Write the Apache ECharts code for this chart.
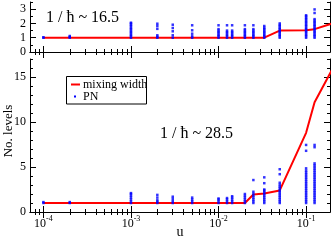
<!DOCTYPE html>
<html><head><meta charset="utf-8">
<script src="https://cdn.jsdelivr.net/npm/echarts@6/dist/echarts.min.js"></script>
<style>html,body{margin:0;padding:0;background:#fff}#c{width:332px;height:240px}</style>
</head><body><div id="c"></div>
<script>
// ---- data ----
const mwX   = [1e-4, 2e-4, 1e-3, 2e-3, 3e-3, 5e-3, 1e-2, 1.25e-2, 1.43e-2, 2e-2, 2.5e-2, 3.33e-2, 5e-2, 0.1, 0.125, 0.2];
const mwTop = [1, 1, 1, 1, 1, 1, 1, 1, 1, 1, 1, 1, 1.5, 1.53, 1.6, 2.0];
const mwBot = [1, 1, 1, 1, 1, 1, 1, 1, 1, 1, 1.95, 2.05, 2.4, 8.8, 12.2, 15.9];
const pnX   = [1e-4, 2e-4, 1e-3, 2e-3, 3e-3, 5e-3, 1e-2, 1.25e-2, 1.43e-2, 2e-2, 2.5e-2, 3.33e-2, 5e-2, 0.1, 0.125];
const pnTop = [
  [1.0, 1.03],
  [1.0, 1.06, 1.12],
  [1.0, 1.1, 1.2, 1.3, 1.4, 1.5, 1.6, 1.7, 1.8, 1.9, 2.0, 2.05],
  [1.0, 1.07, 1.17, 1.62, 1.82, 1.98],
  [1.0, 1.17, 1.45, 1.68, 1.91],
  [1.0, 1.1, 1.28, 1.52, 1.87],
  [1.0, 1.1, 1.2, 1.3, 1.4, 1.5, 1.6, 1.87],
  [1.0, 1.1, 1.2, 1.3, 1.4, 1.5, 1.87],
  [1.0, 1.1, 1.2, 1.3, 1.4, 1.5, 1.87],
  [1.0, 1.1, 1.2, 1.3, 1.4, 1.5, 1.6, 1.87],
  [1.0, 1.1, 1.2, 1.3, 1.4, 1.5, 1.6, 1.87],
  [1.0, 1.1, 1.2, 1.3, 1.4, 1.5, 1.6, 1.7, 1.82],
  [1.0, 1.1, 1.2, 1.3, 1.4, 1.5, 1.6, 1.7, 1.8, 1.9, 2.0],
  [1.0, 1.1, 1.2, 1.3, 1.4, 1.5, 1.6, 1.7, 1.8, 1.9, 2.0, 2.1, 2.2, 2.3, 2.4, 2.5, 2.57],
  [1.0, 1.1, 1.2, 1.3, 1.4, 1.5, 1.6, 1.7, 1.8, 1.9, 2.0, 2.1, 2.2, 2.3, 2.73, 2.98]
];
const pnBot = [
  [1.0, 1.1],
  [1.0, 1.1],
  [1.0, 1.2, 1.4, 1.6, 1.8, 2.0, 2.1],
  [1.0, 1.15, 1.3, 1.6, 1.9],
  [1.0, 1.2, 1.45, 1.7],
  [1.0, 1.2, 1.4, 1.6],
  [1.0, 1.2, 1.4, 1.5],
  [1.0, 1.2, 1.4, 1.55],
  [1.0, 1.2, 1.4, 1.6, 1.75],
  [1.0, 1.2, 1.4, 1.6, 1.8, 2.0],
  [1.0, 1.2, 1.4, 1.6, 1.8, 2.0, 2.25, 3.55],
  [1.0, 1.2, 1.4, 1.6, 1.8, 2.0, 2.2, 2.4, 2.5, 3.2, 3.85],
  [1.0, 1.2, 1.4, 1.6, 1.8, 2.0, 2.2, 2.4, 2.6, 2.8, 3.0, 3.25, 4.2, 4.75],
  [1.0, 1.2, 1.4, 1.6, 1.8, 2.0, 2.2, 2.4, 2.6, 2.8, 3.0, 3.2, 3.4, 3.6, 3.8, 4.0, 4.2, 4.4, 4.6, 4.85, 6.8, 7.45],
  [1.0, 1.2, 1.4, 1.6, 1.8, 2.0, 2.2, 2.4, 2.6, 2.8, 3.0, 3.2, 3.4, 3.6, 3.8, 4.0, 4.2, 4.4, 4.6, 4.8, 5.0, 5.2, 5.4, 7.2, 7.45]
];
const xDecades = [-4, -3, -2, -1];
const yTopTicks = [0, 1, 2, 3];
const yBotTicks = [0, 5, 10, 15];

// ---- helpers ----
const FONT = 'Liberation Serif';
const X_MIN = -4.153, X_MAX = -0.727;
const xMinor = [];
for (let d = -5; d <= -1; d++) for (let k = 2; k <= 9; k++) {
  const v = d + Math.log10(k);
  if (v > X_MIN && v < X_MAX) xMinor.push(v);
}
const yTopMinor = [0.5, 1.5, 2.5, 3.5];
const yBotMinor = [1,2,3,4,6,7,8,9,11,12,13,14,16,17];

function lineData(ys) { return mwX.map((x, i) => [Math.log10(x), ys[i]]); }
function pnData(cols) { const out = []; pnX.forEach((x, i) => cols[i].forEach(v => out.push([Math.log10(x), v]))); return out; }

const axLine = {show: true, lineStyle: {color: '#000', width: 1}};
function xAx(grid, pos, ticks, len, showLine, labels) {
  return {type: 'value', gridIndex: grid, position: pos, min: X_MIN, max: X_MAX,
    axisLine: showLine ? axLine : {show: false}, splitLine: {show: false},
    axisTick: {show: true, inside: true, length: len, customValues: ticks, lineStyle: {color: '#000', width: 1}},
    axisLabel: labels ? {show: true, customValues: xDecades, margin: 3,
      formatter: v => '{b|10}{s|' + v + '}',
      rich: {b: {fontFamily: FONT, fontSize: 12, color: '#000', verticalAlign: 'bottom'},
             s: {fontFamily: FONT, fontSize: 8, color: '#000', verticalAlign: 'bottom', padding: [0, 0, 7, 0]}}} : {show: false}};
}
function yAx(grid, pos, min, max, ticks, len, showLine, labels) {
  return {type: 'value', gridIndex: grid, position: pos, min: min, max: max,
    axisLine: showLine ? axLine : {show: false}, splitLine: {show: false},
    axisTick: {show: true, inside: true, length: len, customValues: ticks, lineStyle: {color: '#000', width: 1}},
    axisLabel: labels ? {show: true, customValues: ticks, margin: 4, fontFamily: FONT, fontSize: 12, color: '#000'} : {show: false}};
}

const chart = echarts.init(document.getElementById('c'), null, {renderer: 'canvas'});
chart.setOption({
  animation: false,
  grid: [
    {left: 30, top: 2, width: 300, height: 50},
    {left: 30, top: 59, width: 300, height: 153}
  ],
  xAxis: [
    xAx(0, 'bottom', xDecades, 6, true, false),
    xAx(0, 'bottom', xMinor, 3, false, false),
    xAx(0, 'top', xDecades, 6, true, false),
    xAx(0, 'top', xMinor, 3, false, false),
    xAx(1, 'bottom', xDecades, 6, true, true),
    xAx(1, 'bottom', xMinor, 3, false, false),
    xAx(1, 'top', xDecades, 6, true, false),
    xAx(1, 'top', xMinor, 3, false, false)
  ],
  yAxis: [
    yAx(0, 'left', 0, 3.5, yTopTicks, 6, true, true),
    yAx(0, 'left', 0, 3.5, yTopMinor, 3, false, false),
    yAx(0, 'right', 0, 3.5, yTopTicks, 6, true, false),
    yAx(0, 'right', 0, 3.5, yTopMinor, 3, false, false),
    yAx(1, 'left', 0, 17, yBotTicks, 6, true, true),
    yAx(1, 'left', 0, 17, yBotMinor, 3, false, false),
    yAx(1, 'right', 0, 17, yBotTicks, 6, true, false),
    yAx(1, 'right', 0, 17, yBotMinor, 3, false, false)
  ],
  series: [
    {name: 'mixing width', type: 'line', xAxisIndex: 0, yAxisIndex: 0, data: lineData(mwTop), showSymbol: false, symbol: 'none',
     lineStyle: {color: '#ff0000', width: 2}, z: 2, clip: true},
    {name: 'PN', type: 'scatter', xAxisIndex: 0, yAxisIndex: 0, data: pnData(pnTop), symbol: 'rect', symbolSize: 2.5,
     itemStyle: {color: '#0000ff'}, z: 3},
    {name: 'mixing width', type: 'line', xAxisIndex: 4, yAxisIndex: 4, data: lineData(mwBot), showSymbol: false, symbol: 'none',
     lineStyle: {color: '#ff0000', width: 2}, z: 2, clip: true},
    {name: 'PN', type: 'scatter', xAxisIndex: 4, yAxisIndex: 4, data: pnData(pnBot), symbol: 'rect', symbolSize: 2.5,
     itemStyle: {color: '#0000ff'}, z: 3}
  ],
  graphic: [
    {type: 'text', left: 46, top: 10, style: {text: '1 / ħ ~ 16.5', fontFamily: FONT, fontSize: 16, fill: '#000'}},
    {type: 'text', left: 160, top: 126, style: {text: '1 / ħ ~ 28.5', fontFamily: FONT, fontSize: 16, fill: '#000'}},
    {type: 'text', x: 9, y: 131, rotation: Math.PI / 2, style: {text: 'No. levels', fontFamily: FONT, fontSize: 13, fill: '#000', align: 'center', verticalAlign: 'middle'}},
    {type: 'text', x: 180, y: 232, style: {text: 'u', fontFamily: FONT, fontSize: 14, fill: '#000', align: 'center', verticalAlign: 'middle'}},
    {type: 'rect', shape: {x: 66.5, y: 76.5, width: 80, height: 27.5}, style: {fill: '#fff', stroke: '#000', lineWidth: 1}, z: 10},
    {type: 'line', shape: {x1: 71, y1: 84.5, x2: 80, y2: 84.5}, style: {stroke: '#ff0000', lineWidth: 2}, z: 11},
    {type: 'text', x: 83, y: 84.5, style: {text: 'mixing width', fontFamily: FONT, fontSize: 12, fill: '#000', verticalAlign: 'middle'}, z: 11},
    {type: 'rect', shape: {x: 74, y: 95.5, width: 2, height: 2}, style: {fill: '#0000ff'}, z: 11},
    {type: 'text', x: 83, y: 96.5, style: {text: 'PN', fontFamily: FONT, fontSize: 12, fill: '#000', verticalAlign: 'middle'}, z: 11}
  ]
});
</script></body></html>
